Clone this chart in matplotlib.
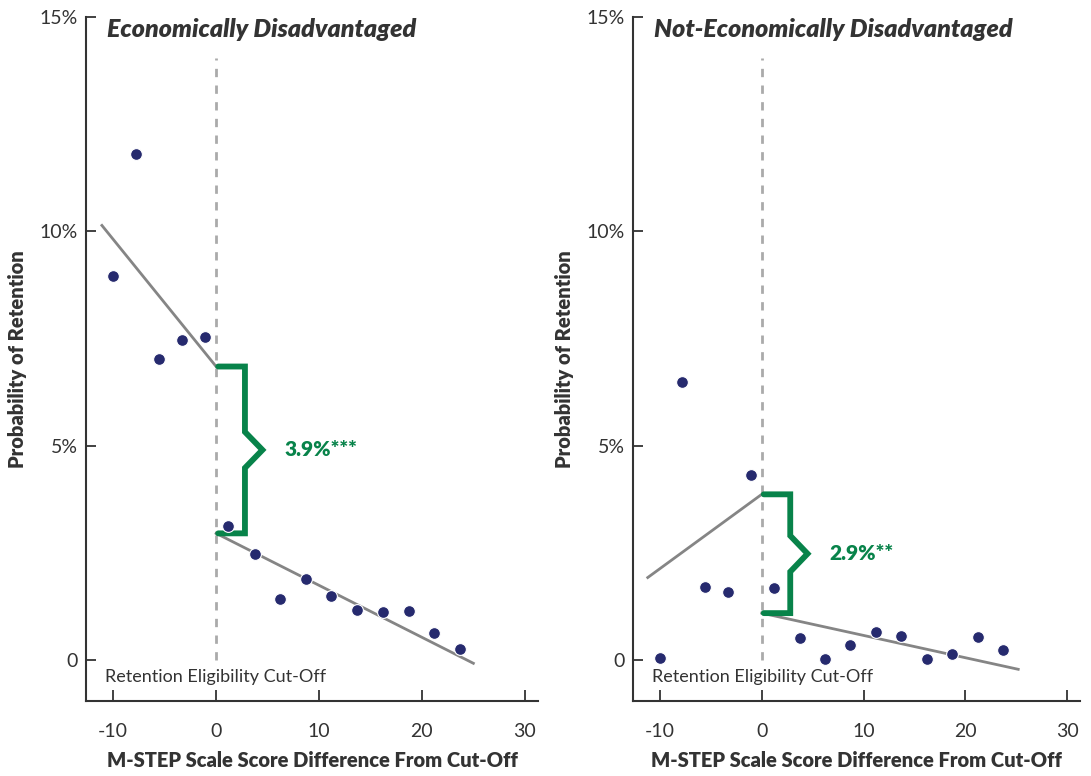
import matplotlib.pyplot as plt
import matplotlib.ticker as mticker

plt.rcParams['font.family'] = ['Lato', 'DejaVu Sans']
plt.rcParams['axes.unicode_minus'] = False

# score difference from cut-off (binned) and retention probability (%)
x_bins = [-10, -7.8, -5.6, -3.3, -1.1, 1.2, 3.8, 6.2, 8.7, 11.2, 13.7, 16.2, 18.7, 21.2, 23.7]
econ_dis = [8.95, 11.8, 7.02, 7.46, 7.53, 3.12, 2.47, 1.42, 1.89, 1.49, 1.17, 1.12, 1.14, 0.63, 0.26]
not_econ_dis = [0.05, 6.48, 1.72, 1.60, 4.31, 1.68, 0.51, 0.02, 0.35, 0.65, 0.56, 0.02, 0.14, 0.54, 0.23]

# fitted lines: (x start, x end, y start, y end), below and above cut-off
econ_fit_left = ([-11.1, 0], [10.14, 6.85])
econ_fit_right = ([0, 25], [2.96, -0.07])
not_fit_left = ([-11.2, 0], [1.93, 3.87])
not_fit_right = ([0, 25.2], [1.10, -0.21])

titles = ["Economically Disadvantaged", "Not-Economically Disadvantaged"]
gaps = ["3.9%***", "2.9%**"]

NAVY = "#262a6e"
GREEN = "#08834a"
GRAY = "#858585"
DARK = "#333333"

fig = plt.figure(figsize=(10.91, 7.76), dpi=100)
ax1 = fig.add_axes([0.0788, 0.0966, 0.4145, 0.8815])
ax2 = fig.add_axes([0.5802, 0.0966, 0.4100, 0.8815])


def bracket(ax, top, bot, x0=0.2, x1=2.8, tip=4.5):
    mid = (top + bot) / 2
    h = 0.42
    xs = [x0, x1, x1, tip, x1, x1, x0]
    ys = [top, top, mid + h, mid, mid - h, bot, bot]
    ax.plot(xs, ys, color=GREEN, lw=4.2, solid_joinstyle='miter',
            solid_capstyle='round', zorder=4)


panels = [
    (ax1, econ_dis, econ_fit_left, econ_fit_right),
    (ax2, not_econ_dis, not_fit_left, not_fit_right),
]

for i, (ax, yv, fl, fr) in enumerate(panels):
    ax.plot([0, 0], [0, 14.05], color="#aaaaaa", lw=2, ls=(0, (3, 3)), zorder=1)
    ax.plot(fl[0], fl[1], color=GRAY, lw=2, zorder=2)
    ax.plot(fr[0], fr[1], color=GRAY, lw=2, zorder=2)
    bracket(ax, fl[1][1], fr[1][0])
    ax.scatter(x_bins, yv, s=72, color=NAVY, edgecolor='white', linewidth=0.8, zorder=5)
    mid = (fl[1][1] + fr[1][0]) / 2
    ax.text(6.6, mid, gaps[i], color=GREEN, fontsize=15, fontweight='heavy',
            va='center', ha='left')
    ax.text(-10.8, -0.38, "Retention Eligibility Cut-Off", color=DARK, fontsize=13,
            va='center', ha='left')
    ax.text(-10.6, 14.7, titles[i], color=DARK, fontsize=18, fontweight='heavy',
            fontstyle='italic', va='center', ha='left')

    ax.set_xlim(-12.65, 31.3)
    ax.set_ylim(-0.95, 15)
    ax.set_xticks([-10, 0, 10, 20, 30])
    ax.set_yticks([0, 5, 10, 15])
    ax.yaxis.set_major_formatter(mticker.FuncFormatter(lambda v, p: "0" if v == 0 else f"{v:.0f}%"))
    ax.tick_params(axis='both', direction='in', colors=DARK, labelsize=14, width=1.3)
    ax.tick_params(axis='x', length=8, pad=16)
    ax.tick_params(axis='y', length=7, pad=6)
    for s in ['top', 'right']:
        ax.spines[s].set_visible(False)
    for s in ['left', 'bottom']:
        ax.spines[s].set_color(DARK)
        ax.spines[s].set_linewidth(1.5)
    ax.set_xlabel("M-STEP Scale Score Difference From Cut-Off", fontsize=14.5,
                  fontweight='heavy', color=DARK, labelpad=8)
    ax.set_ylabel("Probability of Retention", fontsize=14.5, fontweight='heavy',
                  color=DARK, labelpad=9)

fig.savefig("out.png", dpi=100)
